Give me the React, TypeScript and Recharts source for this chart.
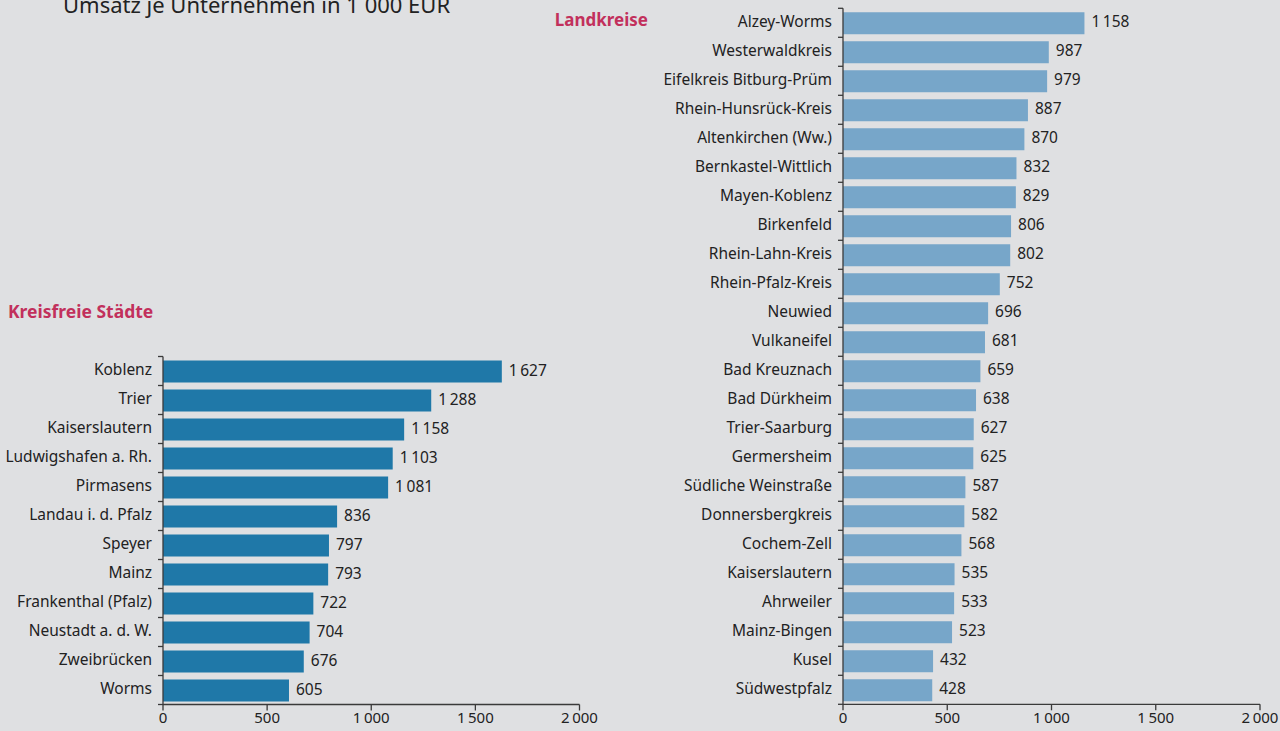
import React from "react";
import { BarChart, Bar, XAxis, YAxis, LabelList } from "recharts";

const title = "Umsatz je Unternehmen in 1 000 EUR";
const staedteTitle = "Kreisfreie Städte";
const kreiseTitle = "Landkreise";

const staedte = [
  "Koblenz", "Trier", "Kaiserslautern", "Ludwigshafen a. Rh.", "Pirmasens",
  "Landau i. d. Pfalz", "Speyer", "Mainz", "Frankenthal (Pfalz)",
  "Neustadt a. d. W.", "Zweibrücken", "Worms",
];
const staedteValues = [1627, 1288, 1158, 1103, 1081, 836, 797, 793, 722, 704, 676, 605];

const kreise = [
  "Alzey-Worms", "Westerwaldkreis", "Eifelkreis Bitburg-Prüm", "Rhein-Hunsrück-Kreis",
  "Altenkirchen (Ww.)", "Bernkastel-Wittlich", "Mayen-Koblenz", "Birkenfeld",
  "Rhein-Lahn-Kreis", "Rhein-Pfalz-Kreis", "Neuwied", "Vulkaneifel",
  "Bad Kreuznach", "Bad Dürkheim", "Trier-Saarburg", "Germersheim",
  "Südliche Weinstraße", "Donnersbergkreis", "Cochem-Zell", "Kaiserslautern",
  "Ahrweiler", "Mainz-Bingen", "Kusel", "Südwestpfalz",
];
const kreiseValues = [1158, 987, 979, 887, 870, 832, 829, 806, 802, 752, 696, 681,
  659, 638, 627, 625, 587, 582, 568, 535, 533, 523, 432, 428];

const xTicks = [0, 500, 1000, 1500, 2000];

const FONT = "'Noto Sans', sans-serif";
const TEXT = "#222222";
const AXIS = "#3a3a3a";
const PINK = "#c2305c";

const fmt = (v: any) => String(v).replace(/\B(?=(\d{3})+(?!\d))/g, "\u202F");

const staedteData = staedte.map((name, i) => ({ name, value: staedteValues[i] }));
const kreiseData = kreise.map((name, i) => ({ name, value: kreiseValues[i] }));

function makeTick(count: number, plotHeight: number) {
  const half = plotHeight / count / 2;
  return (props: any) => {
    const { x, y, payload, index } = props;
    return (
      <g>
        <line x1={x - 5} x2={x} y1={y - half} y2={y - half} stroke={AXIS} strokeWidth={1.3} />
        {index === count - 1 && (
          <line x1={x - 5} x2={x} y1={y + half} y2={y + half} stroke={AXIS} strokeWidth={1.3} />
        )}
        <text x={x - 11} y={y} dy={4} textAnchor="end" fill={TEXT} fontSize={15.5} fontFamily={FONT}>
          {payload.value}
        </text>
      </g>
    );
  };
}

const valueLabel = (props: any) => {
  const { x, y, width, height, value } = props;
  return (
    <text
      x={Number(x) + Number(width) + 7}
      y={Number(y) + Number(height) / 2}
      dy={4}
      textAnchor="start"
      fill={TEXT}
      fontSize={15.5}
      fontFamily={FONT}
    >
      {fmt(value)}
    </text>
  );
};

function Panel(props: {
  data: any[];
  width: number;
  height: number;
  axisWidth: number;
  marginTop: number;
  marginRight: number;
  color: string;
}) {
  const { data, width, height, axisWidth, marginTop, marginRight, color } = props;
  const xAxisHeight = 28;
  const plotHeight = height - marginTop - xAxisHeight;
  return (
    <BarChart
      width={width}
      height={height}
      data={data}
      layout="vertical"
      margin={{ top: marginTop, right: marginRight, bottom: 0, left: 0 }}
    >
      <XAxis
        type="number"
        domain={[0, 2000]}
        ticks={xTicks}
        tickFormatter={fmt}
        height={xAxisHeight}
        axisLine={{ stroke: AXIS, strokeWidth: 1.3 }}
        tickLine={{ stroke: AXIS, strokeWidth: 1.3 }}
        tickSize={6}
        tick={{ fill: TEXT, fontSize: 15, fontFamily: FONT }}
        interval={0}
      />
      <YAxis
        type="category"
        dataKey="name"
        width={axisWidth}
        axisLine={{ stroke: AXIS, strokeWidth: 1.3 }}
        tickLine={false}
        tickSize={0}
        tickMargin={0}
        interval={0}
        tick={makeTick(data.length, plotHeight)}
      />
      <Bar dataKey="value" fill={color} barSize={22} isAnimationActive={false}>
        <LabelList dataKey="value" content={valueLabel} />
      </Bar>
    </BarChart>
  );
}

export default function App() {
  return (
    <div
      style={{
        position: "fixed",
        left: 0,
        top: 0,
        width: 1280,
        height: 731,
        background: "#dfe0e2",
        overflow: "hidden",
        fontFamily: FONT,
      }}
    >
      <div
        style={{
          position: "absolute",
          left: 63,
          top: -11.5,
          fontSize: 22,
          color: TEXT,
          whiteSpace: "nowrap",
          lineHeight: "30px",
        }}
      >
        {title}
      </div>
      <div
        style={{
          position: "absolute",
          right: 632,
          top: 8,
          fontSize: 17,
          fontWeight: 700,
          color: PINK,
          lineHeight: "24px",
          whiteSpace: "nowrap",
        }}
      >
        {kreiseTitle}
      </div>
      <div
        style={{
          position: "absolute",
          left: 8,
          top: 299,
          fontSize: 17.5,
          fontWeight: 700,
          color: PINK,
          lineHeight: "24px",
          whiteSpace: "nowrap",
        }}
      >
        {staedteTitle}
      </div>
      <div style={{ position: "absolute", left: 0, top: 340 }}>
        <Panel
          data={staedteData}
          width={620}
          height={392.5}
          axisWidth={163}
          marginTop={16.5}
          marginRight={40.5}
          color="#1f78a8"
        />
      </div>
      <div style={{ position: "absolute", left: 640, top: 0 }}>
        <Panel
          data={kreiseData}
          width={640}
          height={732.3}
          axisWidth={203}
          marginTop={8.3}
          marginRight={20}
          color="#77a6c9"
        />
      </div>
    </div>
  );
}
